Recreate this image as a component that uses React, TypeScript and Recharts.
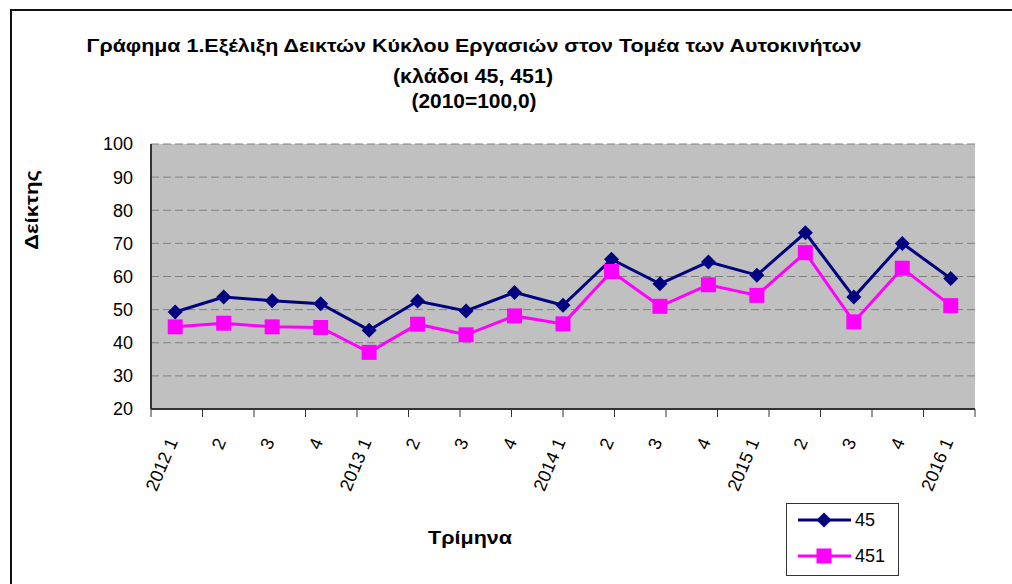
import React from 'react';
import { LineChart, Line, XAxis, YAxis, CartesianGrid, ReferenceArea, Legend } from 'recharts';

const periods = ['2012-1', '2012-2', '2012-3', '2012-4', '2013-1', '2013-2', '2013-3', '2013-4', '2014-1', '2014-2', '2014-3', '2014-4', '2015-1', '2015-2', '2015-3', '2015-4', '2016-1'];
const tickLabels = ['2012 1', '2', '3', '4', '2013 1', '2', '3', '4', '2014 1', '2', '3', '4', '2015 1', '2', '3', '4', '2016 1'];
const index45 = [49.3, 53.8, 52.7, 51.8, 43.8, 52.6, 49.6, 55.2, 51.3, 65.2, 57.8, 64.4, 60.4, 73.2, 53.8, 70.0, 59.4];
const index451 = [44.8, 45.9, 44.8, 44.6, 37.1, 45.6, 42.4, 48.1, 45.7, 61.5, 51.0, 57.5, 54.3, 67.2, 46.3, 62.5, 51.2];
const yTicks = [20, 30, 40, 50, 60, 70, 80, 90, 100];
const bandTicks = Array.from({ length: periods.length + 1 }, (_, i) => i);

const data = periods.map((p, i) => ({ period: p, s45: index45[i], s451: index451[i] }));

const FONT = '"Liberation Sans", Arial, sans-serif';
const NAVY = '#000080';
const MAGENTA = '#FF00FF';

function DiamondDot(props: any) {
  const { cx, cy } = props;
  if (cx == null || cy == null) return null;
  const r = 7.5;
  return <path d={`M${cx},${cy - r}L${cx + r},${cy}L${cx},${cy + r}L${cx - r},${cy}Z`} fill={NAVY} />;
}

function SquareDot(props: any) {
  const { cx, cy } = props;
  if (cx == null || cy == null) return null;
  return <rect x={cx - 7.5} y={cy - 7.5} width={15} height={15} fill={MAGENTA} />;
}

function QuarterTick(props: any) {
  const { x, y, payload } = props;
  const label = tickLabels[periods.indexOf(payload.value)];
  return (
    <text
      transform={`translate(${x - 3},${y + 29}) rotate(-67)`}
      textAnchor="end"
      dy="0.35em"
      fontSize={18}
      fontFamily={FONT}
      fill="#000"
    >
      {label}
    </text>
  );
}

function LegendBox() {
  return (
    <div style={{ width: 113, height: 73, border: '1px solid #333', boxSizing: 'border-box', background: '#fff' }}>
      <svg width={111} height={71}>
        <line x1={11} y1={16} x2={64} y2={16} stroke={NAVY} strokeWidth={3} />
        <DiamondDot cx={37} cy={16} />
        <text x={68} y={16} dy="0.35em" fontSize={18} fontFamily={FONT}>45</text>
        <line x1={11} y1={52} x2={64} y2={52} stroke={MAGENTA} strokeWidth={3} />
        <SquareDot cx={37} cy={52} />
        <text x={68} y={52} dy="0.35em" fontSize={18} fontFamily={FONT}>451</text>
      </svg>
    </div>
  );
}

export default function App() {
  return (
    <div style={{ position: 'absolute', left: 0, top: 0, width: 1012, height: 584, overflow: 'hidden', background: '#fff' }}>
      <div style={{ position: 'absolute', left: 10, top: 9, width: 1100, height: 700, border: '2px solid #111' }} />
      <svg width={1012} height={130} style={{ position: 'absolute', left: 0, top: 0 }}>
        <g fontFamily={FONT} fontWeight="bold" textAnchor="middle" fill="#000">
          <text x={474} y={52} fontSize={18} textLength={775} lengthAdjust="spacingAndGlyphs">Γράφημα 1.Εξέλιξη Δεικτών Κύκλου Εργασιών στον Τομέα των Αυτοκινήτων</text>
          <text x={473} y={83} fontSize={20} textLength={160} lengthAdjust="spacingAndGlyphs">(κλάδοι 45, 451)</text>
          <text x={474} y={108} fontSize={20} textLength={125} lengthAdjust="spacingAndGlyphs">(2010=100,0)</text>
        </g>
      </svg>
      <div style={{ position: 'absolute', left: 0, top: 0 }}>
        <LineChart width={1012} height={584} data={data} margin={{ top: 144, right: 37, bottom: 0, left: 0 }}>
          <CartesianGrid xAxisId="cat" vertical={false} fill="#C0C0C0" stroke="#808080" strokeDasharray="8 4" />
          <ReferenceArea xAxisId="bands" x1={0} x2={17} y1={20} y2={100} fill="none" stroke="#808080" strokeWidth={2} />
          <XAxis
            xAxisId="bands"
            type="number"
            domain={[0, 17]}
            ticks={bandTicks}
            interval={0}
            tickFormatter={() => ' '}
            height={1}
            tickSize={8}
            tickLine={{ stroke: '#333', strokeWidth: 1 }}
            axisLine={{ stroke: '#333', strokeWidth: 2 }}
          />
          <XAxis
            xAxisId="cat"
            dataKey="period"
            scale="band"
            height={174}
            interval={0}
            tickLine={false}
            axisLine={false}
            tickSize={0}
            tickMargin={0}
            tick={<QuarterTick />}
            label={{
              content: () => (
                <text x={470} y={537} dy="0.35em" textAnchor="middle" fontFamily={FONT} fontWeight="bold" fontSize={19} textLength={84} lengthAdjust="spacingAndGlyphs">
                  Τρίμηνα
                </text>
              ),
            }}
          />
          <YAxis
            domain={[20, 100]}
            ticks={yTicks}
            width={151}
            tickLine={false}
            tickSize={0}
            tickMargin={18}
            axisLine={{ stroke: '#333', strokeWidth: 2 }}
            tick={{ fontSize: 18, fontFamily: FONT, fill: '#000' }}
            label={{
              content: () => (
                <text x={31} y={210} dy="0.35em" transform="rotate(-90 31 210)" textAnchor="middle" fontFamily={FONT} fontWeight="bold" fontSize={19} textLength={80} lengthAdjust="spacingAndGlyphs">
                  Δείκτης
                </text>
              ),
            }}
          />
          <Legend
            layout="vertical"
            align="center"
            verticalAlign="middle"
            wrapperStyle={{ position: 'absolute', left: 786, top: 503, width: 113, height: 73 }}
            content={() => <LegendBox />}
          />
          <Line xAxisId="cat" dataKey="s45" name="45" stroke={NAVY} strokeWidth={3} dot={<DiamondDot />} activeDot={false} isAnimationActive={false} />
          <Line xAxisId="cat" dataKey="s451" name="451" stroke={MAGENTA} strokeWidth={3} dot={<SquareDot />} activeDot={false} isAnimationActive={false} />
        </LineChart>
      </div>
    </div>
  );
}
